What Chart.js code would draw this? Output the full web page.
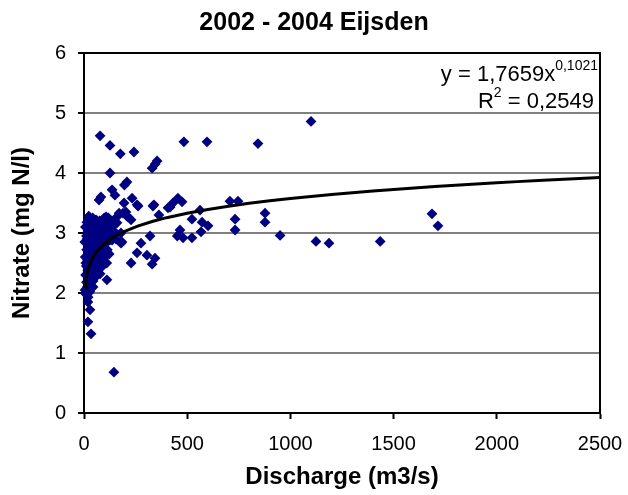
<!DOCTYPE html>
<html><head><meta charset="utf-8">
<script src="https://cdn.jsdelivr.net/npm/chart.js@4.4.1/dist/chart.umd.min.js"></script>
<style>html,body{margin:0;padding:0;background:#fff}</style>
</head><body>
<canvas id="c" width="628" height="495"></canvas>
<script>
// Discharge (m3/s) and nitrate (mg N/l)
const dischargeX = [
  78,126,176,242,484,596,843,1100,126,330,354,345,208,196,136,150,82,73,194,233,
  257,203,339,363,407,431,455,475,562,707,746,523,572,601,732,732,877,877,465,480,
  523,567,950,1124,1187,1435,1686,1715,320,276,257,305,344,330,228,184,228,160,179,179,
  136,111,24,107,118,170,208,452,262,334,417,160,189,213,
  19,29,19,34,145,20,44,
  5,8,6,4,7,10,12,11,13,12,14,
  16,18,17,19,20,22,24,25,26,27,
  28,30,31,33,34,36,38,39,40,42,
  44,46,47,48,50,52,54,55,57,58,
  60,62,64,66,68,70,72,74,76,
  78,80,83,85,87,90,92,94,96,98,
  100,103,106,108,110,113,116,119,122,125,128,132,138,142,148,155,
  9,15,21,35,43,56,63,82,102,23,88
];
const nitrateY = [
  4.62,4.46,4.32,4.35,4.52,4.52,4.49,4.86,4.00,4.08,4.20,4.15,3.85,3.80,3.72,3.63,3.60,3.55,3.50,3.58,
  3.47,3.35,3.47,3.30,3.42,3.50,3.58,3.52,3.38,3.53,3.53,3.23,3.18,3.12,3.23,3.05,3.33,3.18,3.05,2.92,
  2.92,3.02,2.96,2.86,2.83,2.86,3.32,3.12,2.95,2.83,2.67,2.63,2.58,2.48,2.50,2.85,3.22,3.17,3.00,2.83,
  2.88,2.22,3.27,3.27,3.25,3.33,3.28,2.95,3.45,3.45,3.43,3.27,3.33,3.27,
  1.85,1.72,1.52,1.32,0.68,1.93,2.10,
  2.05,2.30,2.60,2.85,3.10,1.98,2.18,2.45,2.72,2.95,3.18,
  2.10,2.38,2.55,2.82,3.02,3.22,2.25,2.65,2.90,3.12,
  2.02,2.42,2.75,2.98,3.15,2.30,2.58,2.85,3.08,3.25,
  2.20,2.48,2.70,2.92,3.18,2.35,2.62,2.80,3.05,3.22,
  2.28,2.52,2.75,2.98,3.12,2.40,2.66,2.88,3.20,
  2.32,2.55,2.78,3.00,3.15,2.45,2.70,2.92,3.08,3.25,
  2.60,2.82,3.02,3.18,2.50,2.72,2.95,3.10,2.65,2.88,3.05,3.20,2.95,3.12,3.02,2.90,
  2.50,2.90,2.70,2.12,2.95,2.45,3.20,2.90,3.12,3.28,2.60
];
const xTicks = [0,500,1000,1500,2000,2500];
const yTicks = [0,1,2,3,4,5,6];
// Power trendline shown on the chart: y = 1,7659 x^0,1021
const trendA = 1.7659, trendB = 0.1021;
const trendX = [5,8,12,18,25,35,50,70,100,140,200,260,330,400,500,600,700,800,900,1000,
  1100,1200,1300,1400,1500,1600,1700,1800,1900,2000,2100,2200,2300,2400,2500];

const FONT = "'Liberation Sans', Arial, sans-serif";
const scatterPts = dischargeX.map((x,i)=>({x:x, y:nitrateY[i]}));
const trendPts = trendX.map(x=>({x:x, y:trendA*Math.pow(x,trendB)}));

const framePlugin = {
  id:'frame',
  beforeDatasetsDraw(chart){
    const {ctx, chartArea:a} = chart;
    ctx.save();
    ctx.strokeStyle = '#000'; ctx.lineWidth = 2;
    ctx.beginPath();
    ctx.moveTo(a.left, a.top); ctx.lineTo(a.right, a.top); ctx.lineTo(a.right, a.bottom);
    ctx.stroke();
    ctx.restore();
  }
};
const eqPlugin = {
  id:'eq',
  afterDatasetsDraw(chart){
    const {ctx, chartArea:a} = chart;
    ctx.save();
    ctx.fillStyle = '#000';
    ctx.textBaseline = 'alphabetic';
    const right = a.right - 2;
    ctx.font = '14px ' + FONT;
    const sup1 = '0,1021';
    const w1s = ctx.measureText(sup1).width;
    ctx.font = '22px ' + FONT;
    const main1 = 'y = 1,7659x';
    const w1m = ctx.measureText(main1).width;
    ctx.textAlign = 'left';
    ctx.fillText(main1, right - w1s - w1m, a.top + 28);
    ctx.font = '14px ' + FONT;
    ctx.fillText(sup1, right - w1s, a.top + 17);
    ctx.font = '22px ' + FONT;
    const r = 'R', rest = ' = 0,2549';
    const wr = ctx.measureText(r).width, wrest = ctx.measureText(rest).width;
    ctx.font = '14px ' + FONT;
    const w2 = ctx.measureText('2').width;
    const x0 = right - 4 - wrest - w2 - wr;
    ctx.font = '22px ' + FONT;
    ctx.fillText(r, x0, a.top + 55);
    ctx.fillText(rest, x0 + wr + w2, a.top + 55);
    ctx.font = '14px ' + FONT;
    ctx.fillText('2', x0 + wr, a.top + 44);
    ctx.restore();
  }
};

new Chart(document.getElementById('c'), {
  type:'scatter',
  data:{datasets:[
    {label:'trend', type:'line', data:trendPts, borderColor:'#000', borderWidth:3,
     pointRadius:0, fill:false, tension:0, order:0, clip:false},
    {label:'Nitrate', data:scatterPts, backgroundColor:'#000080', borderColor:'#000080',
     pointStyle:'rectRot', pointRadius:5.4, pointBorderWidth:0, order:1, clip:false}
  ]},
  options:{
    responsive:false, animation:false, devicePixelRatio:1,
    layout:{padding:{left:0, right:0, top:0, bottom:3}},
    plugins:{
      legend:{display:false}, tooltip:{enabled:false},
      title:{display:true, text:'2002 - 2004 Eijsden', color:'#000',
        font:{family:FONT, size:25, weight:'bold'}, padding:{top:8, bottom:15}}
    },
    scales:{
      x:{type:'linear', min:0, max:2500,
        afterBuildTicks(s){ s.ticks = xTicks.map(v=>({value:v})); },
        afterFit(s){ s.height = 79; s.paddingRight = 28; s.paddingLeft = 0; },
        ticks:{color:'#000', font:{family:FONT, size:20}, padding:13, maxRotation:0,
          callback:(v)=>String(v)},
        grid:{drawOnChartArea:false, tickLength:6, tickColor:'#000', tickWidth:2},
        border:{color:'#000', width:2},
        title:{display:true, text:'Discharge (m3/s)', color:'#000',
          font:{family:FONT, size:24, weight:'bold'}, padding:{top:0,bottom:0}}
      },
      y:{type:'linear', min:0, max:6,
        afterBuildTicks(s){ s.ticks = yTicks.map(v=>({value:v})); },
        afterFit(s){ s.width = 84; },
        ticks:{color:'#000', font:{family:FONT, size:20}, padding:12,
          callback:(v)=>String(v)},
        grid:{color:'#808080', lineWidth:2, tickLength:6, tickColor:'#000', tickWidth:2},
        border:{color:'#000', width:2},
        title:{display:true, text:'Nitrate (mg N/l)', color:'#000',
          font:{family:FONT, size:24, weight:'bold'}, padding:{top:8,bottom:0}}
      }
    }
  },
  plugins:[framePlugin, eqPlugin]
});
</script>
</body></html>
